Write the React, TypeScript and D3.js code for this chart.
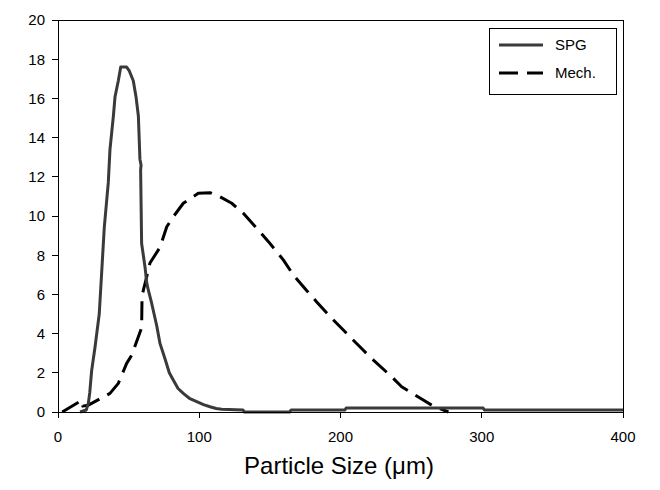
import React from "react";
import * as d3 from "d3";

const spgX = [15.6, 20, 21.5, 22.5, 23.8, 26.2, 29.2, 30.9, 32.8, 35.6, 36.8, 39.2, 40.4, 42.7, 44.4, 48.6, 50.5, 53.3, 55.2, 56.9, 58, 58.8, 58.5, 59.2, 61.6, 62.8, 64, 66.3, 69.9, 72.2, 75.8, 78.8, 81.6, 85, 88.7, 93, 98.2, 103, 107.6, 112, 115.9, 131, 132, 164, 165, 203, 204, 301, 302, 400];
const spgY = [0, 0.1, 0.45, 1.0, 2.1, 3.3, 5.0, 7.1, 9.45, 11.7, 13.4, 15.1, 16.1, 16.9, 17.6, 17.6, 17.4, 16.9, 16.1, 15.1, 12.9, 12.6, 12.35, 8.6, 7.4, 6.6, 6.2, 5.55, 4.4, 3.5, 2.7, 2.0, 1.63, 1.2, 0.95, 0.7, 0.53, 0.38, 0.27, 0.18, 0.14, 0.1, 0, 0, 0.1, 0.1, 0.2, 0.2, 0.1, 0.1];

const mechX = [3, 16.8, 17.5, 21.5, 36.8, 42.7, 48.6, 52.2, 59.2, 59.5, 60.4, 62.8, 65.1, 72.2, 77, 81.6, 88.7, 99.3, 107.6, 114.7, 123, 131.2, 140.7, 149, 159.5, 166.6, 176, 183, 193.8, 202, 216, 223.3, 236.2, 243.3, 258.6, 265.7, 276.4];
const mechY = [0, 0.6, 0.3, 0.35, 0.95, 1.46, 2.48, 2.9, 4.3, 5.9, 6.2, 6.9, 7.6, 8.4, 9.45, 9.96, 10.65, 11.16, 11.19, 10.98, 10.65, 10.14, 9.37, 8.69, 7.76, 6.99, 6.2, 5.63, 4.78, 4.18, 3.16, 2.65, 1.8, 1.29, 0.61, 0.3, 0];

const xTicks = [0, 100, 200, 300, 400];
const yTicks = [0, 2, 4, 6, 8, 10, 12, 14, 16, 18, 20];
const seriesNames = ["SPG", "Mech."];
const xTitle = "Particle Size (\u03bcm)";

const W = 660, H = 490;
const L = 58, R = 623, T = 20, B = 412;
const font = "'Liberation Sans', Arial, sans-serif";

export default function App() {
  const x = d3.scaleLinear().domain([0, 400]).range([L, R]);
  const y = d3.scaleLinear().domain([0, 20]).range([B, T]);
  const line = d3.line<[number, number]>().x(d => x(d[0])).y(d => y(d[1]));
  const spg = line(spgX.map((v, i) => [v, spgY[i]]) as [number, number][]) || "";
  const mech = line(mechX.map((v, i) => [v, mechY[i]]) as [number, number][]) || "";
  return (
    <svg width={W} height={H} style={{ position: "absolute", left: 0, top: 0, background: "#fff" }}>
      <rect x={0} y={0} width={W} height={H} fill="#fff" />
      <path d={mech} fill="none" stroke="#000" strokeWidth={3} strokeDasharray="19,9" strokeLinejoin="round" />
      <path d={spg} fill="none" stroke="#3a3a3a" strokeWidth={3} strokeLinejoin="round" />
      <rect x={L} y={T} width={R - L} height={B - T} fill="none" stroke="#000" strokeWidth={1} shapeRendering="crispEdges" />
      {yTicks.map(t => (
        <g key={"y" + t}>
          <line x1={L - 6} x2={L} y1={y(t)} y2={y(t)} stroke="#000" shapeRendering="crispEdges" />
          <text x={L - 13} y={y(t)} dy="0.36em" textAnchor="end" fontFamily={font} fontSize={15} fill="#000">{t}</text>
        </g>
      ))}
      {xTicks.map(t => (
        <g key={"x" + t}>
          <line x1={x(t)} x2={x(t)} y1={B} y2={B + 6} stroke="#000" shapeRendering="crispEdges" />
          <text x={x(t)} y={B + 30} textAnchor="middle" fontFamily={font} fontSize={15} fill="#000">{t}</text>
        </g>
      ))}
      <text x={339} y={474} textAnchor="middle" fontFamily={font} fontSize={24} fill="#000">{xTitle}</text>
      <rect x={489.5} y={28.5} width={127} height={66} fill="#fff" stroke="#000" strokeWidth={1} />
      <line x1={499} x2={543} y1={45} y2={45} stroke="#3a3a3a" strokeWidth={3} />
      <line x1={499} x2={543} y1={73} y2={73} stroke="#000" strokeWidth={3} strokeDasharray="19,9" />
      <text x={555} y={45} dy="0.36em" fontFamily={font} fontSize={15} fill="#000">{seriesNames[0]}</text>
      <text x={555} y={73} dy="0.36em" fontFamily={font} fontSize={15} fill="#000">{seriesNames[1]}</text>
    </svg>
  );
}
